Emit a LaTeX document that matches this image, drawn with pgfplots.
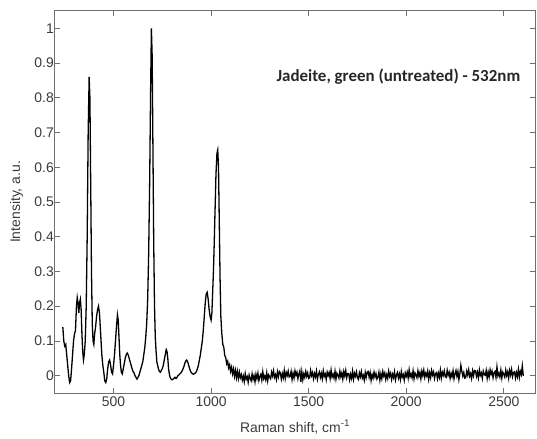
\documentclass[border=0pt]{standalone}
\usepackage{pgfplots}
\pgfplotsset{compat=1.18}
\usepackage{fontspec}
\setmainfont{Liberation Sans}
\newfontfamily\titlefont{Carlito}
\definecolor{txt}{HTML}{3A3A3A}
\definecolor{frame}{HTML}{6E6E6E}
\begin{document}
\begin{tikzpicture}
\begin{axis}[
  scale only axis, width=480bp, height=382bp,
  xmin=200, xmax=2660, ymin=-0.05, ymax=1.05,
  xtick={500,1000,...,2500}, ytick={0,0.1,...,1.0},
  tick align=inside, major tick length=5bp,
  axis line style={frame, line width=1bp},
  every tick/.style={frame, line width=0.8bp},
  /pgf/number format/1000 sep={},
  /pgf/number format/assume math mode=true,
  tick label style={font=\fontsize{14}{16}\selectfont, text=txt},
  yticklabel style={inner sep=1bp},
  xticklabel style={inner sep=2bp, yshift=-2bp},
  xlabel={Raman shift, cm\textsuperscript{-1}},
  ylabel={Intensity, a.u.},
  xlabel style={at={(axis description cs:0.5,-0.089)}, anchor=center, font=\fontsize{14}{16}\selectfont, text=txt},
  ylabel style={at={(axis description cs:-0.0802,0.5)}, rotate=0, anchor=center, font=\fontsize{14}{16}\selectfont, text=txt},
  clip=false,
]
% main spectrum
\addplot[black, line width=1.3bp] coordinates {
(240,0.14)(245,0.10)(250,0.085)(255,0.09)(260,0.06)(265,0.03)(270,0.00)(275,-0.02)(280,-0.015)
(285,0.02)(290,0.06)(295,0.10)(300,0.12)(305,0.13)(310,0.20)(314,0.225)(318,0.21)(322,0.18)
(326,0.21)(330,0.22)(334,0.19)(338,0.12)(342,0.07)(346,0.045)(350,0.06)(355,0.10)(360,0.20)
(365,0.40)(370,0.70)(375,0.86)(379,0.80)(383,0.55)(387,0.30)(391,0.15)(395,0.10)(399,0.09)
(403,0.12)(408,0.14)(413,0.17)(418,0.19)(423,0.20)(428,0.18)(432,0.14)(436,0.10)(440,0.06)
(445,0.03)(450,0.01)(455,-0.015)(460,-0.02)(465,-0.01)(470,0.02)(475,0.04)(480,0.045)(485,0.03)
(490,0.01)(495,0.005)(500,0.03)(505,0.06)(510,0.10)(515,0.14)(520,0.175)(524,0.16)(528,0.11)
(532,0.06)(536,0.03)(540,0.01)(545,0.005)(550,0.02)(555,0.035)(560,0.05)(565,0.06)(570,0.065)
(575,0.06)(580,0.05)(585,0.04)(590,0.03)(595,0.02)(600,0.012)(605,0.008)(610,0.0)(615,-0.005)
(620,-0.01)(625,-0.005)(630,0.0)(635,0.01)(640,0.02)(645,0.03)(650,0.04)(655,0.06)(660,0.08)
(665,0.11)(670,0.15)(675,0.22)(680,0.35)(685,0.55)(690,0.82)(694,1.0)(698,0.92)(702,0.65)
(706,0.38)(710,0.20)(714,0.11)(718,0.07)(722,0.04)(726,0.03)(730,0.02)(735,0.012)(740,0.01)
(745,0.015)(750,0.02)(755,0.03)(760,0.045)(765,0.06)(770,0.075)(774,0.07)(778,0.05)(782,0.02)
(786,0.005)(790,-0.005)(795,-0.01)(800,-0.012)(805,-0.01)(810,-0.008)(815,-0.005)(820,-0.008)
(825,-0.005)(830,0.0)(835,0.002)(840,0.005)(845,0.008)(850,0.012)(855,0.018)(860,0.025)
(865,0.035)(870,0.042)(875,0.045)(880,0.04)(885,0.03)(890,0.02)(895,0.012)(900,0.008)
(905,0.005)(910,0.004)(915,0.006)(920,0.008)(925,0.012)(930,0.02)(935,0.03)(940,0.045)
(945,0.06)(950,0.08)(955,0.10)(960,0.13)(965,0.17)(970,0.21)(975,0.235)(980,0.24)(985,0.22)
(990,0.19)(995,0.17)(1000,0.16)(1004,0.18)(1008,0.24)(1012,0.30)(1016,0.38)(1020,0.47)
(1025,0.58)(1030,0.64)(1034,0.65)(1038,0.60)(1042,0.44)(1046,0.28)(1050,0.17)(1055,0.12)
(1060,0.09)(1065,0.082)(1070,0.058)(1075,0.052)(1080,0.034)(1085,0.041)(1090,0.022)(1095,0.031)
(1100,0.012)(1105,0.024)(1110,0.005)(1115,0.019)(1120,-0.002)(1125,0.015)(1130,-0.006)(1135,0.012)(1140,-0.008)(1145,0.010)(1150,-0.006)
(1155,0.003)(1160,-0.013)(1165,-0.001)(1170,-0.017)(1175,0.006)(1180,-0.010)(1185,-0.003)(1190,-0.019)(1195,0.002)(1200,-0.008)
(1205,-0.015)(1210,0.005)(1215,-0.011)(1220,0.000)(1225,-0.018)(1230,0.004)(1235,-0.009)(1240,0.007)(1245,-0.014)(1250,-0.002)
(1255,0.004)(1260,-0.013)(1265,0.011)(1270,-0.009)(1275,-0.001)(1280,-0.012)(1285,0.008)(1290,-0.015)(1295,0.002)(1300,-0.004)
(1305,-0.009)(1310,0.010)(1315,-0.001)(1320,0.014)(1325,-0.005)(1330,0.003)(1335,-0.011)(1340,0.011)(1345,-0.003)(1350,0.012)
(1355,0.008)(1360,-0.010)(1365,0.006)(1370,-0.006)(1375,0.015)(1380,-0.008)(1385,0.009)(1390,0.000)(1395,0.013)(1400,-0.004)
(1405,-0.002)(1410,0.012)(1415,-0.011)(1420,0.007)(1425,-0.007)(1430,0.014)(1435,0.001)(1440,0.010)(1445,-0.009)(1450,0.005)
(1455,0.014)(1460,-0.018)(1465,0.011)(1470,-0.012)(1475,0.005)(1480,-0.005)(1485,0.012)(1490,-0.002)(1495,0.008)(1500,-0.008)
(1505,-0.006)(1510,0.015)(1515,0.000)(1520,0.009)(1525,-0.009)(1530,0.006)(1535,-0.004)(1540,0.013)(1545,-0.010)(1550,0.004)
(1555,0.011)(1560,-0.005)(1565,0.007)(1570,-0.009)(1575,0.014)(1580,-0.002)(1585,0.005)(1590,-0.011)(1595,0.010)(1600,0.000)
(1605,0.009)(1610,-0.008)(1615,0.016)(1620,-0.004)(1625,0.004)(1630,-0.007)(1635,0.013)(1640,-0.010)(1645,0.007)(1650,0.001)
(1655,-0.007)(1660,0.013)(1665,-0.003)(1670,0.008)(1675,-0.010)(1680,0.012)(1685,-0.001)(1690,0.015)(1695,-0.006)(1700,0.006)
(1705,0.006)(1710,-0.012)(1715,0.004)(1720,-0.008)(1725,0.013)(1730,-0.010)(1735,0.007)(1740,-0.002)(1745,0.011)(1750,-0.006)
(1755,-0.011)(1760,0.008)(1765,-0.003)(1770,0.012)(1775,-0.007)(1780,0.001)(1785,-0.013)(1790,0.009)(1795,-0.005)(1800,0.010)
(1805,0.012)(1810,-0.005)(1815,0.009)(1820,-0.014)(1825,0.003)(1830,-0.007)(1835,0.010)(1840,-0.004)(1845,0.006)(1850,-0.010)
(1855,-0.004)(1860,0.010)(1865,-0.013)(1870,0.005)(1875,-0.009)(1880,0.012)(1885,-0.001)(1890,0.008)(1895,-0.011)(1900,0.003)
(1905,-0.008)(1910,0.013)(1915,-0.002)(1920,0.007)(1925,-0.011)(1930,0.004)(1935,-0.006)(1940,0.011)(1945,-0.012)(1950,0.002)
(1955,0.009)(1960,-0.007)(1965,0.005)(1970,-0.011)(1975,0.012)(1980,-0.004)(1985,0.003)(1990,-0.013)(1995,0.008)(2000,-0.002)
(2005,0.010)(2010,-0.007)(2015,0.017)(2020,-0.003)(2025,0.005)(2030,-0.006)(2035,0.014)(2040,-0.009)(2045,0.008)(2050,0.002)
(2055,-0.006)(2060,0.014)(2065,-0.002)(2070,0.009)(2075,-0.009)(2080,0.013)(2085,0.000)(2090,0.016)(2095,-0.005)(2100,0.007)
(2105,-0.001)(2110,0.013)(2115,-0.010)(2120,0.008)(2125,-0.006)(2130,0.015)(2135,0.002)(2140,0.011)(2145,-0.008)(2150,0.006)
(2155,0.009)(2160,-0.009)(2165,0.007)(2170,-0.005)(2175,0.016)(2180,-0.007)(2185,0.010)(2190,0.001)(2195,0.014)(2200,-0.003)
(2205,-0.005)(2210,0.016)(2215,0.001)(2220,0.010)(2225,-0.008)(2230,0.007)(2235,-0.003)(2240,0.014)(2245,-0.009)(2250,0.005)
(2255,0.015)(2260,-0.002)(2265,0.012)(2270,-0.011)(2275,0.006)(2280,0.030)(2285,0.013)(2290,-0.001)(2295,0.009)(2300,-0.007)
(2305,-0.006)(2310,0.013)(2315,0.002)(2320,0.017)(2325,-0.002)(2330,0.006)(2335,-0.008)(2340,0.014)(2345,0.000)(2350,0.015)
(2355,0.014)(2360,-0.002)(2365,0.010)(2370,-0.006)(2375,0.017)(2380,0.001)(2385,0.008)(2390,-0.008)(2395,0.013)(2400,0.003)
(2405,0.001)(2410,0.015)(2415,-0.008)(2420,0.010)(2425,-0.004)(2430,0.017)(2435,0.004)(2440,0.013)(2445,-0.006)(2450,0.008)
(2455,0.012)(2460,-0.005)(2465,0.025)(2470,-0.001)(2475,0.007)(2480,-0.004)(2485,0.016)(2490,-0.007)(2495,0.010)(2500,0.004)
(2505,-0.004)(2510,0.016)(2515,0.000)(2520,0.011)(2525,-0.007)(2530,0.015)(2535,0.002)(2540,0.018)(2545,-0.003)(2550,0.009)
(2555,0.011)(2560,-0.007)(2565,0.009)(2570,-0.003)(2575,0.018)(2580,-0.005)(2585,0.012)(2590,0.003)(2595,0.028)(2600,-0.001)
};
\node[font=\titlefont\bfseries\fontsize{17}{19}\selectfont, text=black!85] at (axis cs:1960,0.86) {Jadeite, green (untreated) - 532nm};
\end{axis}
\pgfresetboundingbox
\path (-55bp,-46bp) rectangle (482bp,393bp);
\end{tikzpicture}
\end{document}
